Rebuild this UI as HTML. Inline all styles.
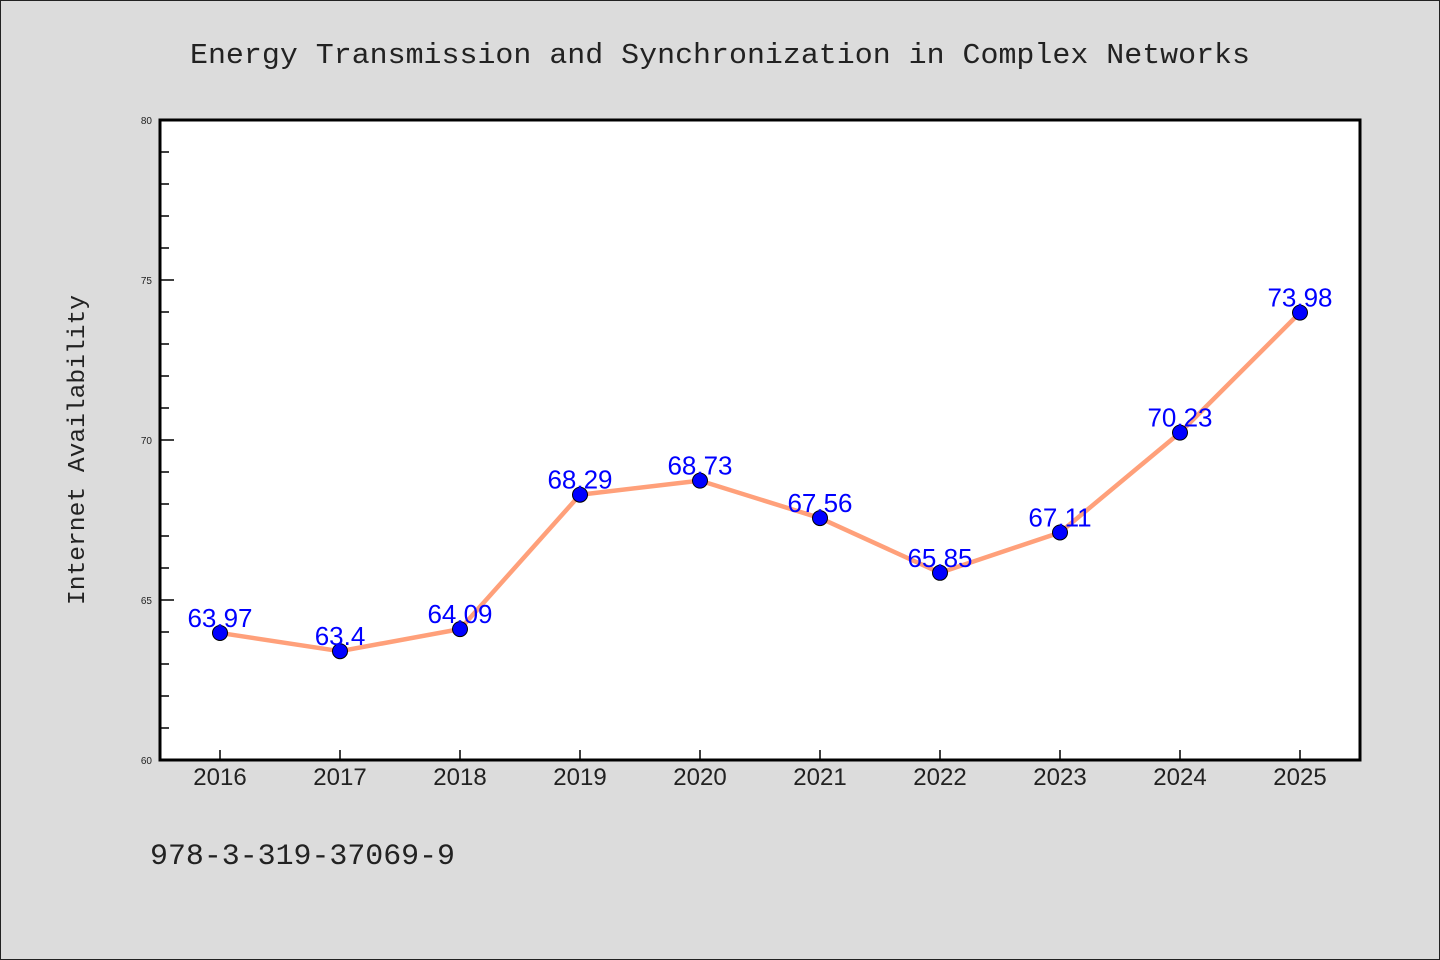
<!DOCTYPE html>
<html><head><meta charset="utf-8"><style>
html,body{margin:0;padding:0;background:#dcdcdc}
svg{display:block}
</style></head><body>
<svg id="chart" width="1440" height="960" viewBox="0 0 1440 960" xmlns="http://www.w3.org/2000/svg">
<rect x="0.5" y="0.5" width="1439" height="959" fill="#dcdcdc" stroke="#222" stroke-width="1"/>
<text x="720" y="63" text-anchor="middle" font-family="'Liberation Mono', monospace" font-size="29" fill="#222" textLength="1060" lengthAdjust="spacingAndGlyphs">Energy Transmission and Synchronization in Complex Networks</text>
<rect x="160" y="120" width="1200" height="640" fill="#fff"/>
<g id="yticks"></g>
<g id="xticks"></g>
<g id="series"></g>
<rect x="160" y="120" width="1200" height="640" fill="none" stroke="#000" stroke-width="3"/>
<text x="0" y="0" transform="translate(84,450) rotate(-90)" text-anchor="middle" font-family="'Liberation Mono', monospace" font-size="24" fill="#222" textLength="310" lengthAdjust="spacingAndGlyphs">Internet Availability</text>
<text x="150" y="864" font-family="'Liberation Mono', monospace" font-size="30" fill="#222" textLength="305" lengthAdjust="spacingAndGlyphs">978-3-319-37069-9</text>
</svg>
<script>
const categories = ["2016","2017","2018","2019","2020","2021","2022","2023","2024","2025"];
const values = [63.97,63.4,64.09,68.29,68.73,67.56,65.85,67.11,70.23,73.98];
const valueLabels = ["63.97","63.4","64.09","68.29","68.73","67.56","65.85","67.11","70.23","73.98"];
const yTickLabels = ["60","65","70","75","80"];
const yMin = 60, yMax = 80;
const NS = "http://www.w3.org/2000/svg";
const L = 160, R = 1360, T = 120, B = 760;
const step = (R - L) / categories.length;
function xPos(i){ return L + step * (i + 0.5); }
function yPos(v){ return B - (v - yMin) / (yMax - yMin) * (B - T); }
function mk(tag, attrs, parent){ const e = document.createElementNS(NS, tag); for (const k in attrs) e.setAttribute(k, attrs[k]); parent.appendChild(e); return e; }
const yg = document.getElementById('yticks');
for (let v = yMin; v <= yMax; v++) {
  const major = (v % 5 === 0);
  if (v === yMin || v === yMax) continue;
  const t = mk('line', {x1: L, x2: L + (major ? 14 : 9), y1: yPos(v), y2: yPos(v), stroke: '#000', 'stroke-width': 1.5}, yg);
  
  
}
yTickLabels.forEach(s => {
  const t = mk('text', {x: 152, y: yPos(+s) + 4, 'text-anchor': 'end', 'font-family': "'Liberation Sans', sans-serif", 'font-size': 10, fill: '#222'}, yg);
  t.textContent = s;
  
  
});
const xg = document.getElementById('xticks');
categories.forEach((c, i) => {
  const tk = mk('line', {x1: xPos(i), x2: xPos(i), y1: B, y2: B - 10, stroke: '#000', 'stroke-width': 1.5}, xg);
  
  
  const t = mk('text', {x: xPos(i), y: 785, 'text-anchor': 'middle', 'font-family': "'Liberation Sans', sans-serif", 'font-size': 24, fill: '#222'}, xg);
  t.textContent = c;
  
  
});
const sg = document.getElementById('series');
const pts = values.map((v, i) => xPos(i) + ',' + yPos(v)).join(' ');
const line = mk('polyline', {points: pts, fill: 'none', stroke: '#FFA07A', 'stroke-width': 4.5, 'stroke-linejoin': 'round'}, sg);


values.forEach((v, i) => {
  const c = mk('circle', {cx: xPos(i), cy: yPos(v), r: 7.5, fill: '#0000ff', stroke: '#000', 'stroke-width': 1}, sg);
  
  
});
values.forEach((v, i) => {
  const t = mk('text', {x: xPos(i), y: yPos(v) - 6, 'text-anchor': 'middle', 'font-family': "'Liberation Sans', sans-serif", 'font-size': 26, fill: '#0000ff'}, sg);
  t.textContent = valueLabels[i];
  
  
});
</script>
</body></html>
